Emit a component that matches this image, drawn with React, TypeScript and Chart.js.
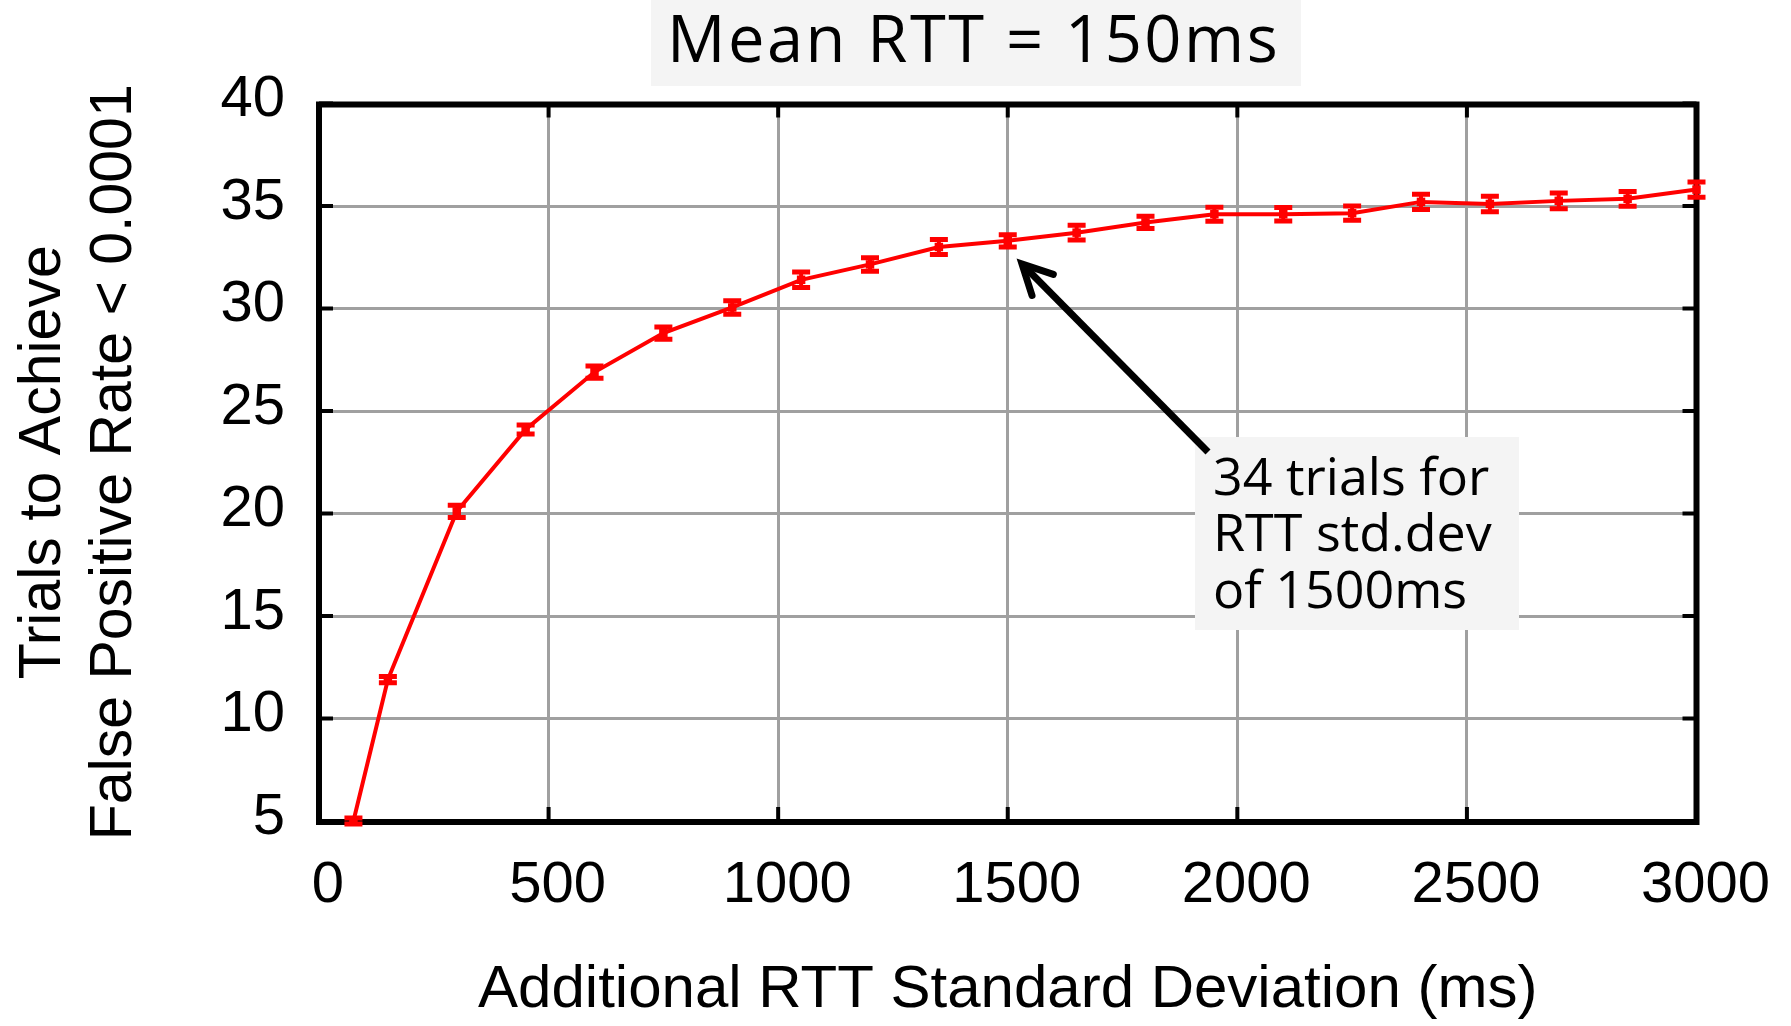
import { useEffect, useRef } from 'react';
import { Chart, registerables } from 'chart.js';

Chart.register(...registerables);

// ---- data ----
const stdDevMs = [75, 150, 300, 450, 600, 750, 900, 1050, 1200, 1350, 1500, 1650, 1800, 1950, 2100, 2250, 2400, 2550, 2700, 2850, 3000];
const trialsNeeded = [5.0, 11.9, 20.1, 24.1, 26.9, 28.8, 30.05, 31.4, 32.15, 33.0, 33.3, 33.7, 34.2, 34.6, 34.6, 34.65, 35.2, 35.1, 35.25, 35.35, 35.8];
const trialsError = [0.15, 0.15, 0.3, 0.22, 0.3, 0.3, 0.33, 0.38, 0.33, 0.36, 0.3, 0.36, 0.3, 0.34, 0.33, 0.35, 0.37, 0.38, 0.38, 0.36, 0.37];

const chartTitle = 'Mean RTT = 150ms';
const xAxisTitle = 'Additional RTT Standard Deviation (ms)';
const yAxisTitle = ['Trials to Achieve', 'False Positive Rate < 0.0001'];
const annotationLines = ['34 trials for', 'RTT std.dev', 'of 1500ms'];

const RED = '#ff0000';
const GRID = '#a0a0a0';

const decorPlugin = {
  id: 'decor',
  beforeDraw(chart: any) {
    const ctx = chart.ctx as CanvasRenderingContext2D;
    ctx.save();
    ctx.fillStyle = '#ffffff';
    ctx.fillRect(0, 0, chart.width, chart.height);
    // title box
    ctx.fillStyle = '#f4f4f4';
    ctx.fillRect(651, 0, 650, 86);
    ctx.fillStyle = '#000';
    ctx.font = '65px "Open Sans"';
    (ctx as any).letterSpacing = '2.5px';
    ctx.textAlign = 'left';
    ctx.textBaseline = 'alphabetic';
    ctx.fillText(chartTitle, 667, 62);
    ctx.restore();
  },
  beforeDatasetsDraw(chart: any) {
    const ctx = chart.ctx as CanvasRenderingContext2D;
    const { left, right, top, bottom } = chart.chartArea;
    const xs = chart.scales.x;
    const ys = chart.scales.y;
    ctx.save();
    ctx.strokeStyle = '#000';
    // inward tick marks
    ctx.lineWidth = 4;
    const tl = 14;
    ctx.beginPath();
    ys.ticks.forEach((t: any) => {
      const py = ys.getPixelForValue(t.value);
      ctx.moveTo(left, py); ctx.lineTo(left + tl, py);
      ctx.moveTo(right, py); ctx.lineTo(right - tl, py);
    });
    xs.ticks.forEach((t: any) => {
      const px = xs.getPixelForValue(t.value);
      ctx.moveTo(px, bottom); ctx.lineTo(px, bottom - tl);
      ctx.moveTo(px, top); ctx.lineTo(px, top + tl);
    });
    ctx.stroke();
    // frame
    ctx.lineWidth = 6;
    ctx.strokeRect(left, top + 1, right - left, bottom - top);
    ctx.restore();
  },
  afterDatasetsDraw(chart: any) {
    const ctx = chart.ctx as CanvasRenderingContext2D;
    const xs = chart.scales.x;
    const ys = chart.scales.y;
    ctx.save();
    ctx.strokeStyle = RED;
    const capHalf = 9;
    stdDevMs.forEach((xv, i) => {
      const px = xs.getPixelForValue(xv);
      const hi = ys.getPixelForValue(trialsNeeded[i] + trialsError[i]);
      const lo = ys.getPixelForValue(trialsNeeded[i] - trialsError[i]);
      ctx.lineWidth = 4;
      ctx.beginPath();
      ctx.moveTo(px, hi); ctx.lineTo(px, lo);
      ctx.stroke();
      ctx.lineWidth = 5;
      ctx.beginPath();
      ctx.moveTo(px - capHalf, hi); ctx.lineTo(px + capHalf, hi);
      ctx.moveTo(px - capHalf, lo); ctx.lineTo(px + capHalf, lo);
      ctx.stroke();
    });
    ctx.restore();
  },
  afterDraw(chart: any) {
    const ctx = chart.ctx as CanvasRenderingContext2D;
    ctx.save();
    // annotation box
    ctx.fillStyle = '#f4f4f4';
    ctx.fillRect(1195, 437, 324, 193);
    ctx.fillStyle = '#000';
    ctx.font = '52px "Open Sans"';
    ctx.textAlign = 'left';
    ctx.textBaseline = 'alphabetic';
    const baselines = [495, 551, 608];
    annotationLines.forEach((l, i) => ctx.fillText(l, 1213, baselines[i]));
    // arrow
    const tail = { x: 1208, y: 452 };
    const tip = { x: 1022, y: 264 };
    ctx.strokeStyle = '#000';
    ctx.lineWidth = 7;
    ctx.lineCap = 'butt';
    ctx.beginPath();
    ctx.moveTo(tail.x, tail.y);
    ctx.lineTo(tip.x + 4, tip.y + 4);
    ctx.stroke();
    const ang = Math.atan2(tail.y - tip.y, tail.x - tip.x);
    const spread = (27 * Math.PI) / 180;
    const len = 33;
    ctx.lineCap = 'round';
    ctx.lineJoin = 'miter';
    ctx.beginPath();
    ctx.moveTo(tip.x + len * Math.cos(ang - spread), tip.y + len * Math.sin(ang - spread));
    ctx.lineTo(tip.x, tip.y);
    ctx.lineTo(tip.x + len * Math.cos(ang + spread), tip.y + len * Math.sin(ang + spread));
    ctx.stroke();
    ctx.restore();
  },
};

export default function App() {
  const ref = useRef<HTMLCanvasElement | null>(null);
  useEffect(() => {
    if (!ref.current) return;
    const family = '"Liberation Sans", Arial, sans-serif';
    const chart = new Chart(ref.current, {
      type: 'line',
      data: {
        datasets: [
          {
            data: stdDevMs.map((x, i) => ({ x, y: trialsNeeded[i] })),
            borderColor: RED,
            backgroundColor: RED,
            borderWidth: 4,
            tension: 0,
            pointStyle: 'rect',
            pointRadius: 6,
            pointBorderWidth: 0,
            pointBackgroundColor: RED,
            clip: false as any,
          },
        ],
      },
      options: {
        animation: false,
        responsive: true,
        maintainAspectRatio: false,
        layout: { padding: { top: 103.5, right: 94.5, left: 0, bottom: 0 } },
        plugins: { legend: { display: false }, title: { display: false }, tooltip: { enabled: false } },
        scales: {
          x: {
            type: 'linear',
            min: 0,
            max: 3000,
            ticks: {
              stepSize: 500,
              font: { family, size: 58, lineHeight: '110px' as any },
              color: '#000',
              padding: 10,
              labelOffset: 9,
              maxRotation: 0,
              autoSkip: false,
              callback: (v: any) => String(v),
            },
            grid: { color: GRID, lineWidth: 3, drawTicks: false },
            border: { display: false },
            title: {
              display: true,
              text: xAxisTitle,
              color: '#000',
              font: { family, size: 60, lineHeight: 1 },
              padding: { top: 0, bottom: 6 },
            },
            afterFit: (s: any) => { s.height = 205; },
          },
          y: {
            type: 'linear',
            min: 5,
            max: 40,
            ticks: {
              stepSize: 5,
              font: { family, size: 58, lineHeight: 1.2 },
              color: '#000',
              padding: 34,
              labelOffset: -3.5,
              callback: (v: any) => String(v),
            },
            grid: { color: GRID, lineWidth: 3, drawTicks: false },
            border: { display: false },
            title: {
              display: true,
              text: yAxisTitle,
              color: '#000',
              font: { family, size: 59, lineHeight: '71px' as any },
              padding: { top: 8.5, bottom: 0 },
            },
            afterFit: (s: any) => { s.width = 319; },
          },
        },
      },
      plugins: [decorPlugin],
    });
    return () => chart.destroy();
  }, []);
  return (
    <div style={{ position: 'fixed', left: 0, top: 0, width: 1791, height: 1026, background: '#fff' }}>
      <canvas ref={ref} />
    </div>
  );
}
